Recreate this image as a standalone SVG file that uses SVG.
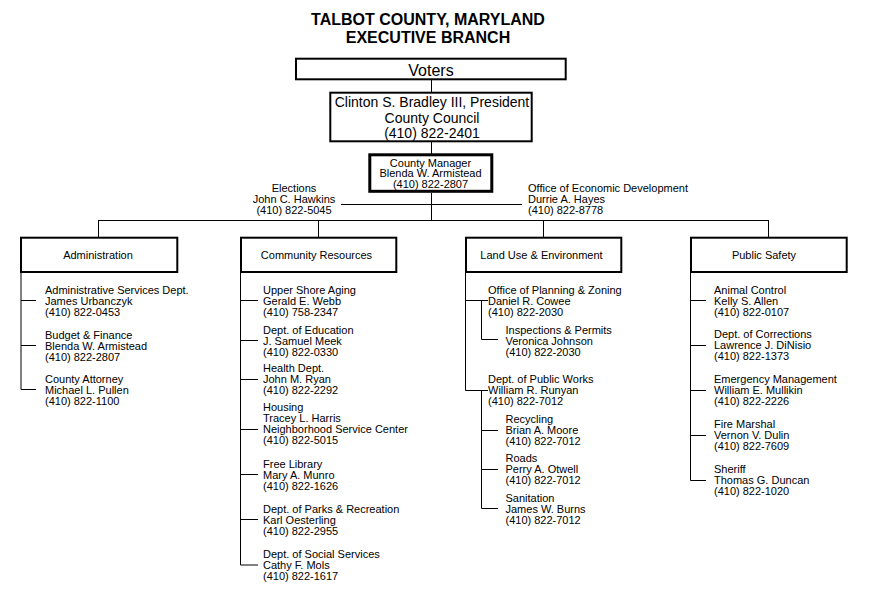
<svg xmlns="http://www.w3.org/2000/svg" width="869" height="600" viewBox="0 0 869 600">
<style>
text{font-family:"Liberation Sans",Arial,sans-serif;fill:#000}
.t{font-size:16px;font-weight:bold;text-anchor:middle}
.s{font-size:11px}
.m{text-anchor:middle}
.box{fill:#fff;stroke:#000;stroke-width:2}
.ln{fill:none;stroke:#000;stroke-width:1}
</style>
<rect width="869" height="600" fill="#fff"/>
<g id="title">
<text class="t" x="428" y="25">TALBOT COUNTY, MARYLAND</text>
<text class="t" x="428" y="43">EXECUTIVE BRANCH</text>
</g>
<g id="connectors" class="ln">
<path d="M431.5 80V92M431.5 142V154M431.5 193V220M341 204.5H522M98.5 220.5H768.5M98.5 220V237M318.5 220V237M543.5 220V237M768.5 220V237"/>
<path d="M21 272V389.5H36M21 300.5H36M21 345.5H36"/>
<path d="M240.5 272V565H258M240.5 300.5H258M240.5 340.5H258M240.5 379.5H258M240.5 429.5H258M240.5 474.5H258M240.5 519.5H258"/>
<path d="M465.5 272V390.5H488M465.5 300.5H488M481.5 300.5V339.5H498M481.5 390.5V508.5H498M481.5 430.5H498M481.5 469.5H498"/>
<path d="M690.5 272V480.5H706M690.5 300.5H706M690.5 345.5H706M690.5 390.5H706M690.5 435.5H706"/>
</g>
<g id="voters">
<rect class="box" x="296" y="58.7" width="269.7" height="20.6"/>
<text x="431" y="76" font-size="16" text-anchor="middle">Voters</text>
</g>
<g id="council">
<rect class="box" x="330.3" y="92.7" width="201.4" height="48.6"/>
<text x="432" y="106.5" font-size="14" text-anchor="middle">Clinton S. Bradley III, President</text>
<text x="432" y="122.5" font-size="14" text-anchor="middle">County Council</text>
<text x="432" y="138" font-size="14" text-anchor="middle">(410) 822-2401</text>
</g>
<g id="manager">
<rect x="369.8" y="154.8" width="122" height="36.5" fill="#fff" stroke="#000" stroke-width="3"/>
<text class="s m" x="430.5" y="166.5">County Manager</text>
<text class="s m" x="430.5" y="177">Blenda W. Armistead</text>
<text class="s m" x="430.5" y="187.5">(410) 822-2807</text>
</g>
<g id="elections">
<text class="s m" x="294" y="192">Elections</text>
<text class="s m" x="294" y="203">John C. Hawkins</text>
<text class="s m" x="294" y="214">(410) 822-5045</text>
</g>
<g id="econdev">
<text class="s" x="528" y="192">Office of Economic Development</text>
<text class="s" x="528" y="203">Durrie A. Hayes</text>
<text class="s" x="528" y="214">(410) 822-8778</text>
</g>
<g id="administration">
<rect class="box" x="21" y="237.7" width="156.3" height="34.3"/>
<text class="s m" x="98" y="259">Administration</text>
</g>
<g id="community">
<rect class="box" x="241" y="237.7" width="155.3" height="34.3"/>
<text class="s m" x="316.5" y="259">Community Resources</text>
</g>
<g id="landuse">
<rect class="box" x="466" y="237.7" width="155.3" height="34.3"/>
<text class="s m" x="541.5" y="259">Land Use &amp; Environment</text>
</g>
<g id="publicsafety">
<rect class="box" x="691" y="237.7" width="155.7" height="34.3"/>
<text class="s m" x="764" y="259">Public Safety</text>
</g>
<g id="admin-items" class="s">
<g id="adminsvc"><text class="s" x="45" y="294">Administrative Services Dept.</text><text class="s" x="45" y="305.2">James Urbanczyk</text><text class="s" x="45" y="316.4">(410) 822-0453</text></g>
<g id="budget"><text class="s" x="45" y="338.5">Budget &amp; Finance</text><text class="s" x="45" y="349.7">Blenda W. Armistead</text><text class="s" x="45" y="360.9">(410) 822-2807</text></g>
<g id="attorney"><text class="s" x="45" y="383">County Attorney</text><text class="s" x="45" y="394.2">Michael L. Pullen</text><text class="s" x="45" y="405.4">(410) 822-1100</text></g>
</g>
<g id="community-items">
<g id="aging"><text class="s" x="263" y="293.5">Upper Shore Aging</text><text class="s" x="263" y="304.7">Gerald E. Webb</text><text class="s" x="263" y="315.9">(410) 758-2347</text></g>
<g id="education"><text class="s" x="263" y="333.5">Dept. of Education</text><text class="s" x="263" y="344.7">J. Samuel Meek</text><text class="s" x="263" y="355.9">(410) 822-0330</text></g>
<g id="health"><text class="s" x="263" y="372">Health Dept.</text><text class="s" x="263" y="383.2">John M. Ryan</text><text class="s" x="263" y="394.4">(410) 822-2292</text></g>
<g id="housing"><text class="s" x="263" y="410.5">Housing</text><text class="s" x="263" y="421.7">Tracey L. Harris</text><text class="s" x="263" y="432.9">Neighborhood Service Center</text><text class="s" x="263" y="444.1">(410) 822-5015</text></g>
<g id="library"><text class="s" x="263" y="467.5">Free Library</text><text class="s" x="263" y="478.7">Mary A. Munro</text><text class="s" x="263" y="489.9">(410) 822-1626</text></g>
<g id="parks"><text class="s" x="263" y="512.5">Dept. of Parks &amp; Recreation</text><text class="s" x="263" y="523.7">Karl Oesterling</text><text class="s" x="263" y="534.9">(410) 822-2955</text></g>
<g id="social"><text class="s" x="263" y="558">Dept. of Social Services</text><text class="s" x="263" y="569.2">Cathy F. Mols</text><text class="s" x="263" y="580.4">(410) 822-1617</text></g>
</g>
<g id="landuse-items">
<g id="planning"><text class="s" x="488" y="293.5">Office of Planning &amp; Zoning</text><text class="s" x="488" y="304.7">Daniel R. Cowee</text><text class="s" x="488" y="315.9">(410) 822-2030</text></g>
<g id="inspections"><text class="s" x="505.5" y="333.5">Inspections &amp; Permits</text><text class="s" x="505.5" y="344.7">Veronica Johnson</text><text class="s" x="505.5" y="355.9">(410) 822-2030</text></g>
<g id="publicworks"><text class="s" x="488" y="382.5">Dept. of Public Works</text><text class="s" x="488" y="393.7">William R. Runyan</text><text class="s" x="488" y="404.9">(410) 822-7012</text></g>
<g id="recycling"><text class="s" x="505.5" y="423">Recycling</text><text class="s" x="505.5" y="434.2">Brian A. Moore</text><text class="s" x="505.5" y="445.4">(410) 822-7012</text></g>
<g id="roads"><text class="s" x="505.5" y="462">Roads</text><text class="s" x="505.5" y="473.2">Perry A. Otwell</text><text class="s" x="505.5" y="484.4">(410) 822-7012</text></g>
<g id="sanitation"><text class="s" x="505.5" y="502">Sanitation</text><text class="s" x="505.5" y="513.2">James W. Burns</text><text class="s" x="505.5" y="524.4">(410) 822-7012</text></g>
</g>
<g id="safety-items">
<g id="animal"><text class="s" x="714" y="293.5">Animal Control</text><text class="s" x="714" y="304.7">Kelly S. Allen</text><text class="s" x="714" y="315.9">(410) 822-0107</text></g>
<g id="corrections"><text class="s" x="714" y="338">Dept. of Corrections</text><text class="s" x="714" y="349.2">Lawrence J. DiNisio</text><text class="s" x="714" y="360.4">(410) 822-1373</text></g>
<g id="emergency"><text class="s" x="714" y="383">Emergency Management</text><text class="s" x="714" y="394.2">William E. Mullikin</text><text class="s" x="714" y="405.4">(410) 822-2226</text></g>
<g id="fire"><text class="s" x="714" y="428">Fire Marshal</text><text class="s" x="714" y="439.2">Vernon V. Dulin</text><text class="s" x="714" y="450.4">(410) 822-7609</text></g>
<g id="sheriff"><text class="s" x="714" y="473">Sheriff</text><text class="s" x="714" y="484.2">Thomas G. Duncan</text><text class="s" x="714" y="495.4">(410) 822-1020</text></g>
</g>
</svg>
